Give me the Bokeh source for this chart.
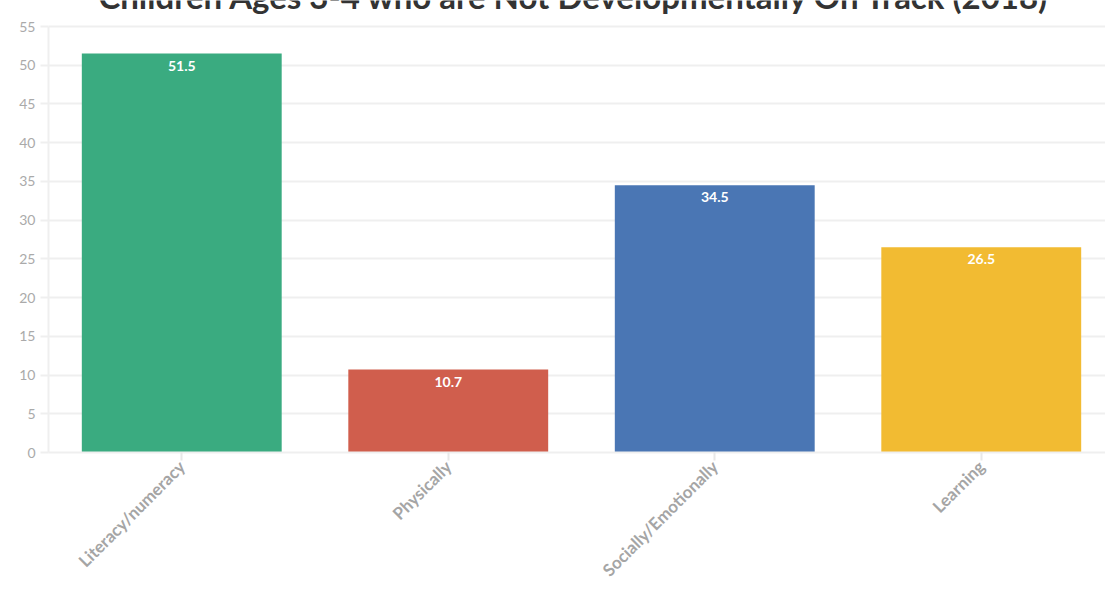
import math
from bokeh.plotting import figure
from bokeh.models import Range1d, ColumnDataSource, Label
from bokeh.core.properties import value
from bokeh.embed import file_html
from bokeh.resources import INLINE

categories = ["Literacy/numeracy", "Physically", "Socially/Emotionally", "Learning"]
values = [51.5, 10.7, 34.5, 26.5]
colors = ["#3aab80", "#d05e4d", "#4a76b4", "#f2bb32"]
y_ticks = [0, 5, 10, 15, 20, 25, 30, 35, 40, 45, 50, 55]
title_text = "Children Ages 3-4 who are Not Developmentally On Track (2018)"

W, H = 1105, 593
LEFT, BOTTOM = 48, 141
Y_MAX = 55
TOP_GAP = 26          # px between canvas top and the 55 gridline
PLOT_H = H - BOTTOM - TOP_GAP
PX_PER_UNIT = PLOT_H / Y_MAX
FONT = "Lato"

xs = list(range(len(categories)))
src = ColumnDataSource(dict(x=xs, top=values, color=colors,
                            label=[f"{v:.1f}" for v in values]))

p = figure(width=W, height=H, output_backend="svg", toolbar_location=None,
           x_range=Range1d(-0.5, (W - LEFT) / 266.5 - 0.5),
           y_range=Range1d(0, Y_MAX + TOP_GAP / PX_PER_UNIT),
           min_border_left=LEFT, min_border_right=0,
           min_border_top=0, min_border_bottom=BOTTOM)

p.vbar(x="x", top="top", width=0.75, bottom=0, color="color", line_color=None, source=src)
p.text(x="x", y="top", text="label", source=src, text_color="white",
       text_font=value(FONT), text_font_style="bold", text_font_size="14px",
       text_align="center", text_baseline="top", y_offset=7)

p.outline_line_color = None
p.background_fill_color = "white"
p.border_fill_color = "white"

p.xgrid.grid_line_color = None
p.ygrid.grid_line_color = "#efefef"
p.ygrid.grid_line_width = 2

p.yaxis.ticker = y_ticks
p.yaxis.bounds = (0, Y_MAX)
p.yaxis.axis_line_color = "#efefef"
p.yaxis.axis_line_width = 2
p.yaxis.major_tick_line_color = "#efefef"
p.yaxis.major_tick_line_width = 2
p.yaxis.major_tick_out = 8
p.yaxis.major_tick_in = 0
p.yaxis.minor_tick_line_color = None
p.yaxis.major_label_standoff = 5
p.yaxis.major_label_text_font = FONT
p.yaxis.major_label_text_font_size = "14px"
p.yaxis.major_label_text_color = "#aaaaaa"

p.xaxis.ticker = xs
p.xaxis.major_label_overrides = {i: c for i, c in enumerate(categories)}
p.xaxis.major_label_orientation = math.pi / 4
p.xaxis.axis_line_color = "#efefef"
p.xaxis.axis_line_width = 2
p.xaxis.major_tick_line_color = "#e8e8e8"
p.xaxis.major_tick_line_width = 2
p.xaxis.major_tick_out = 8
p.xaxis.major_tick_in = 0
p.xaxis.minor_tick_line_color = None
p.xaxis.major_label_standoff = 3
p.xaxis.major_label_text_font = FONT
p.xaxis.major_label_text_font_style = "bold"
p.xaxis.major_label_text_font_size = "17px"
p.xaxis.major_label_text_color = "#a5a5a5"

title = Label(x=1.474, y=Y_MAX + (TOP_GAP + 5) / PX_PER_UNIT, text=title_text,
              text_font=FONT, text_font_style="bold", text_font_size="33px",
              text_color="#333333", text_align="center", text_baseline="alphabetic")
p.add_layout(title)

open("out.html", "w").write(file_html(p, INLINE))
